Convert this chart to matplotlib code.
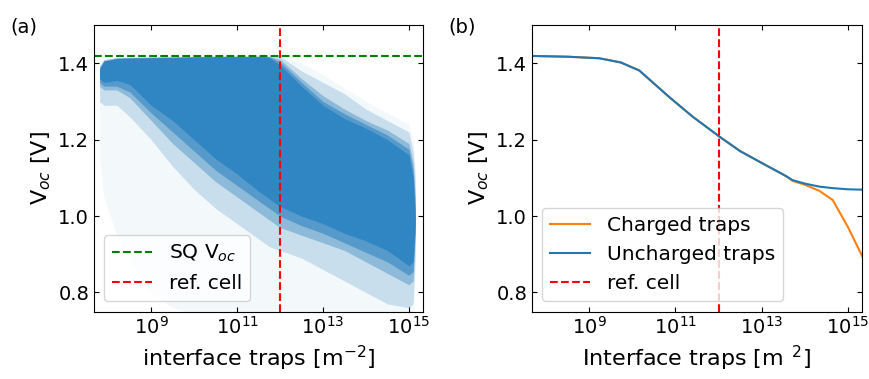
import numpy as np
import matplotlib
matplotlib.use('Agg')
import matplotlib.pyplot as plt
from matplotlib.ticker import NullLocator

# panel (a): envelope of the scatter cloud (log10 of traps)
cloud_lx = [7.8, 7.9, 8.2, 8.5, 9.0, 9.5, 10.0, 10.5, 11.0, 11.5, 11.75, 12.0,
            12.5, 13.0, 13.5, 14.0, 14.5, 15.0, 15.1, 15.15]
core_hi = [1.385, 1.405, 1.412, 1.413, 1.414, 1.415, 1.416, 1.417, 1.417, 1.417, 1.415, 1.395,
           1.34, 1.29, 1.255, 1.23, 1.20, 1.16, 1.10, 1.00]
core_lo = [1.36, 1.35, 1.355, 1.345, 1.29, 1.25, 1.20, 1.15, 1.11, 1.065, 1.045, 1.025,
           1.00, 0.98, 0.955, 0.935, 0.91, 0.87, 0.88, 0.98]
soft_hi = [1.388, 1.406, 1.413, 1.414, 1.415, 1.416, 1.417, 1.418, 1.418, 1.418, 1.417, 1.403,
           1.35, 1.30, 1.268, 1.24, 1.212, 1.175, 1.12, 1.025]
soft_lo = [1.35, 1.34, 1.34, 1.325, 1.27, 1.22, 1.17, 1.12, 1.08, 1.04, 1.02, 1.00,
           0.975, 0.955, 0.93, 0.905, 0.88, 0.845, 0.855, 0.965]
inner_hi = [1.39, 1.408, 1.414, 1.415, 1.416, 1.416, 1.417, 1.418, 1.418, 1.418, 1.418, 1.41,
            1.36, 1.315, 1.28, 1.25, 1.225, 1.19, 1.14, 1.05]
inner_lo = [1.34, 1.33, 1.33, 1.31, 1.25, 1.19, 1.14, 1.09, 1.05, 1.01, 0.99, 0.97,
            0.95, 0.93, 0.91, 0.88, 0.85, 0.82, 0.83, 0.95]
mid_hi = [1.395, 1.41, 1.415, 1.416, 1.417, 1.418, 1.418, 1.419, 1.419, 1.419, 1.419, 1.418,
          1.38, 1.35, 1.32, 1.28, 1.25, 1.22, 1.17, 1.10]
mid_lo = [1.30, 1.29, 1.29, 1.26, 1.20, 1.13, 1.07, 1.02, 0.98, 0.94, 0.92, 0.91,
          0.89, 0.86, 0.83, 0.80, 0.77, 0.76, 0.77, 0.90]
faint_hi = [1.39, 1.41, 1.415, 1.416, 1.417, 1.418, 1.418, 1.419, 1.419, 1.419, 1.419, 1.419,
            1.40, 1.37, 1.335, 1.30, 1.27, 1.24, 1.20, 1.12]
faint_lo = [1.15, 1.05, 0.95, 0.88, 0.80, 0.76, 0.74, 0.74, 0.74, 0.74, 0.74, 0.74,
            0.74, 0.74, 0.74, 0.74, 0.74, 0.74, 0.74, 0.85]

sq_voc = 1.42
ref_traps = 1e12

# panel (b): Voc vs interface traps
b_lx = [7.67, 8.5, 9.23, 9.73, 10.16, 10.5, 10.85, 11.4, 12.02, 12.5, 13.1, 13.56,
        13.72, 14.0, 14.34, 14.65, 15.0, 15.34]
uncharged = [1.419, 1.417, 1.413, 1.402, 1.381, 1.347, 1.312, 1.26, 1.208, 1.17, 1.133, 1.105,
             1.094, 1.085, 1.077, 1.073, 1.070, 1.069]
charged = [1.419, 1.417, 1.413, 1.402, 1.381, 1.347, 1.312, 1.26, 1.208, 1.17, 1.133, 1.105,
           1.092, 1.082, 1.066, 1.042, 0.972, 0.894]

xticks = [1e9, 1e11, 1e13, 1e15]
yticks = [0.8, 1.0, 1.2, 1.4]

fig = plt.figure(figsize=(8.69, 3.79), dpi=100)
ax1 = fig.add_axes([0.1082, 0.178, 0.3786, 0.756])
ax2 = fig.add_axes([0.6122, 0.178, 0.3797, 0.756])

# (a) the cloud, as layered bands
cx = 10 ** np.array(cloud_lx)
ax1.fill_between(cx, faint_lo, faint_hi, color='C0', alpha=0.05, lw=0)
ax1.fill_between(cx, mid_lo, mid_hi, color='C0', alpha=0.2, lw=0)
ax1.fill_between(cx, inner_lo, inner_hi, color='C0', alpha=0.35, lw=0)
ax1.fill_between(cx, soft_lo, soft_hi, color='#3085c3', alpha=0.6, lw=0)
ax1.fill_between(cx, core_lo, core_hi, color='#3085c3', lw=0)
ax1.axhline(sq_voc, color='g', ls='--', lw=1.5, label='SQ V$_{oc}$')
ax1.axvline(ref_traps, color='r', ls='--', lw=1.5, label='ref. cell')
ax1.set_xlabel('interface traps [m$^{-2}$]', fontsize=16)
ax1.legend(loc='lower left', fontsize=14.5)

# (b)
bx = 10 ** np.array(b_lx)
ax2.plot(bx, charged, color='C1', label='Charged traps')
ax2.plot(bx, uncharged, color='C0', label='Uncharged traps')
ax2.axvline(ref_traps, color='r', ls='--', lw=1.5, label='ref. cell')
ax2.set_xlabel(r'Interface traps [m$^{\;\;2}$]', fontsize=16)
ax2.legend(loc='lower left', fontsize=14.5)

for ax in (ax1, ax2):
    ax.set_xscale('log')
    ax.set_xlim(10 ** 7.67, 10 ** 15.33)
    ax.set_ylim(0.75, 1.5)
    ax.set_xticks(xticks)
    ax.xaxis.set_minor_locator(NullLocator())
    ax.set_yticks(yticks)
    ax.tick_params(direction='in', top=True, right=True, labelsize=14)
    ax.set_ylabel('V$_{oc}$ [V]', fontsize=16)

fig.text(0.012, 0.955, '(a)', fontsize=14, va='top')
fig.text(0.516, 0.955, '(b)', fontsize=14, va='top')

fig.savefig('out.png', dpi=100)
